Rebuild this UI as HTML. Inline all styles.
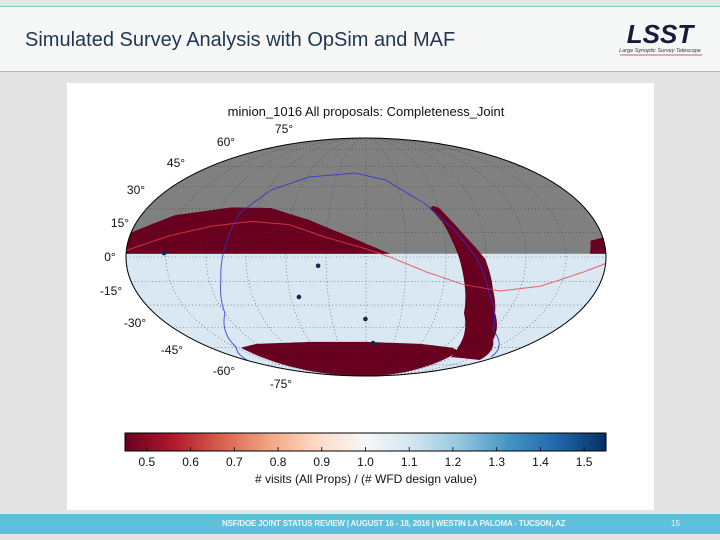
<!DOCTYPE html>
<html><head><meta charset="utf-8">
<style>
html,body{margin:0;padding:0;}
body{width:720px;height:540px;background:#e4e4e4;position:relative;overflow:hidden;font-family:"Liberation Sans",sans-serif;}
#header{position:absolute;left:0;top:6px;width:720px;height:64px;background:#f6f8f8;border-top:1px solid #8fc9cf;border-bottom:1px solid #8fc9cf;}
#title{position:absolute;left:25px;top:22px;font-size:20px;color:#1f3550;}
#logo{position:absolute;left:614px;top:12px;width:92px;height:38px;}
#panel{position:absolute;left:67px;top:83px;width:587px;height:427px;background:#fff;}
#footer{position:absolute;left:0;top:514px;width:720px;height:20px;background:#5fc0dc;color:#eaf7fb;font-size:8px;}
</style></head><body>
<div id="header">
  <div id="title">Simulated Survey Analysis with OpSim and MAF</div>
  <svg id="logo" viewBox="0 0 92 38">
    <text x="46" y="24" text-anchor="middle" font-family="Liberation Sans" font-weight="bold" font-style="italic" font-size="26" fill="#1a1a3a">LSST</text>
    <text x="46" y="33" text-anchor="middle" font-family="Liberation Sans" font-style="italic" font-size="5.5" fill="#333">Large Synoptic Survey Telescope</text>
    <line x1="6" y1="36" x2="88" y2="36" stroke="#b03030" stroke-width="0.8"/>
  </svg>
</div>
<div id="panel"></div>
<svg id="chart" width="720" height="540" style="position:absolute;left:0;top:0"></svg>
<div id="footer">
  <div style="position:absolute;left:222px;top:5px;font-weight:bold;letter-spacing:-0.2px">NSF/DOE JOINT STATUS REVIEW | AUGUST 16 - 18, 2016 | WESTIN LA PALOMA - TUCSON, AZ</div>
  <div style="position:absolute;left:671px;top:5px">15</div>
</div>
<script>
// ---- data ----
const northRedRegion = [[-180,2],[-180,15],[-153,26],[-111,31],[-78,30.6],[-45,23],[-11,12],[18,2]];
const eastEdgeRed = [[168,2],[170,10],[180,12],[180,2]];
const southCapBoundary = [[-145,-60],[-120,-57],[-60,-55.5],[0,-55.5],[60,-57],[100,-60],[115,-63]];
const bandLeft = [[56,32],[52.7,30.6],[60.3,21],[69,1.5],[74.9,-14.1],[83.3,-35.2],[105.5,-59.4],[117.7,-67.7]];
const bandRight = [[170,-70.4],[132.9,-54],[109.7,-35.2],[99.1,-20.4],[89.3,-1.1],[76,12.3],[60.1,30.6]];
const eclipticPts = [[-180,4],[-150,13],[-120,19],[-90,22],[-60,20],[-30,12],[0,5],[18,0],[45,-9],[75,-17],[105,-21],[135,-18],[165,-9],[180,-4]];
const galacticPts = [[-178,-70.4],[-149,-59.4],[-119.9,-35.2],[-110.9,-14.1],[-106.2,6.1],[-101.7,27.4],[-86.1,42.6],[-57.8,51.8],[-11.6,54.8],[19.7,49.6],[48.8,33.9],[67.7,16.7],[83.3,-1.1],[96.8,-22.3],[120.6,-46.8],[173,-67.7]];
const ddfFields = [[-36,-5.4],[-53.4,-24.8],[-0.5,-39.2],[7.6,-56.4],[-151.5,2.4]];
const latTicks = [75,60,45,30,15,0,-15,-30,-45,-60,-75];
const cbTicks = [0.5,0.6,0.7,0.8,0.9,1.0,1.1,1.2,1.3,1.4,1.5];
const cbMin = 0.45, cbMax = 1.55;
const grayBoundaryDec = 2;

// ---- projection ----
const cx=366, cy=257, rx=240, ry=119;
function theta(dec){const p=dec*Math.PI/180;let t=p;if(Math.abs(Math.abs(dec)-90)<1e-6)return p;
  for(let i=0;i<50;i++){const f=2*t+Math.sin(2*t)-Math.PI*Math.sin(p);t-=f/(2+2*Math.cos(2*t));}return t;}
function proj(lon,dec){const t=theta(dec);return [cx+rx*(lon/180)*Math.cos(t), cy-ry*Math.sin(t)];}
const NS='http://www.w3.org/2000/svg';
const svg=document.getElementById('chart');
function mk(tag,attrs,parent){const e=document.createElementNS(NS,tag);for(const k in attrs)e.setAttribute(k,attrs[k]);(parent||svg).appendChild(e);return e;}
function densify(pts,close){const out=[];const n=pts.length;const m=close?n:n-1;
  for(let i=0;i<m;i++){const a=pts[i],b=pts[(i+1)%n];for(let k=0;k<16;k++){const f=k/16;out.push([a[0]+(b[0]-a[0])*f,a[1]+(b[1]-a[1])*f]);}}
  if(!close)out.push(pts[n-1]);return out;}
function pathFrom(pts,close){return densify(pts,close).map((p,i)=>(i?'L':'M')+proj(p[0],p[1]).map(v=>v.toFixed(1)).join(',')).join('')+(close?'Z':'');}
function lonLine(dec,l0,l1){const a=[];const n=60;for(let i=0;i<=n;i++)a.push([l0+(l1-l0)*i/n,dec]);return a;}
function latLine(lon,d0,d1){const a=[];const n=60;for(let i=0;i<=n;i++)a.push([lon,d0+(d1-d0)*i/n]);return a;}

const defs=mk('defs',{});
const cp=mk('clipPath',{id:'ell'},defs);
mk('ellipse',{cx:cx,cy:cy,rx:rx,ry:ry},cp);
const g=mk('g',{'clip-path':'url(#ell)'});

// title
const t=mk('text',{x:366,y:116,'text-anchor':'middle','font-size':13,fill:'#111'});t.textContent='minion_1016 All proposals: Completeness_Joint';



// base fills
const sb=mk('rect',{x:cx-rx,y:cy-ry,width:2*rx,height:2*ry,fill:'#d9e8f2'},g);


const gy=proj(0,grayBoundaryDec)[1];
const gray=mk('rect',{x:cx-rx,y:cy-ry,width:2*rx,height:gy-(cy-ry),fill:'#808080'},g);


const nr=mk('path',{d:pathFrom(northRedRegion,true),fill:'#6a0020'},g);


const er=mk('path',{d:pathFrom(eastEdgeRed,true),fill:'#6a0020'},g);


const scPts=southCapBoundary.concat([[115,-89.9],[-145,-89.9]]);
const sc=mk('path',{d:pathFrom(scPts,true),fill:'#6a0020'},g);


const gb=mk('path',{d:pathFrom(bandLeft.concat(bandRight),true),fill:'#6a0020'},g);



// grid
for(let d=-75;d<=75;d+=15){const l=mk('path',{d:pathFrom(lonLine(d,-180,180)),fill:'none',stroke:'#333','stroke-width':0.6,'stroke-dasharray':'1,2.5',opacity:0.8},g);

}
for(let lo=-150;lo<=150;lo+=30){const l=mk('path',{d:pathFrom(latLine(lo,-90,90)),fill:'none',stroke:'#333','stroke-width':0.6,'stroke-dasharray':'1,2.5',opacity:0.8},g);

}

// lines
const ec=mk('path',{d:pathFrom(eclipticPts),fill:'none',stroke:'#e8404a','stroke-width':1,opacity:0.8},g);


const gl=mk('path',{d:pathFrom(galacticPts),fill:'none',stroke:'#3030d8','stroke-width':1,opacity:0.8},g);


ddfFields.forEach(p=>{const q=proj(p[0],p[1]);const c=mk('circle',{cx:q[0],cy:q[1],r:2.3,fill:'#0d2a55'},g);

});

const outline=mk('ellipse',{cx:cx,cy:cy,rx:rx,ry:ry,fill:'none',stroke:'#000','stroke-width':1});



// latitude labels
const latLab={75:[284,133],60:[226,146],45:[176,167],30:[136,194],15:[120,227],0:[110,261],'-15':[111,295],'-30':[135,327],'-45':[172,354],'-60':[224,375],'-75':[281,388]};
latTicks.forEach(d=>{const p=latLab[d];const tx=mk('text',{x:p[0],y:p[1],'text-anchor':'middle','font-size':12,fill:'#111'});tx.textContent=d+'°';

});

// colorbar
const cbx0=125,cbx1=606,cby=433,cbh=18;
const lg=mk('linearGradient',{id:'rdbu',x1:0,x2:1,y1:0,y2:0},defs);
['#67001f','#b2182b','#d6604d','#f4a582','#fddbc7','#f7f7f7','#d1e5f0','#92c5de','#4393c3','#2166ac','#053061'].forEach((c,i)=>mk('stop',{offset:i/10,'stop-color':c},lg));
const cb=mk('rect',{x:cbx0,y:cby,width:cbx1-cbx0,height:cbh,fill:'url(#rdbu)',stroke:'#000','stroke-width':1});


function cbX(v){return cbx0+(v-cbMin)/(cbMax-cbMin)*(cbx1-cbx0);}
cbTicks.forEach(v=>{const x=cbX(v);
  const tk=mk('line',{x1:x,x2:x,y1:cby+cbh-4,y2:cby+cbh,stroke:'#000','stroke-width':0.8});
  
  
  const tx=mk('text',{x:x,y:466,'text-anchor':'middle','font-size':12,fill:'#111'});tx.textContent=v.toFixed(1);
  
  });
const cl=mk('text',{x:366,y:483,'text-anchor':'middle','font-size':12,fill:'#111'});cl.textContent='# visits (All Props) / (# WFD design value)';


</script>
</body></html>
